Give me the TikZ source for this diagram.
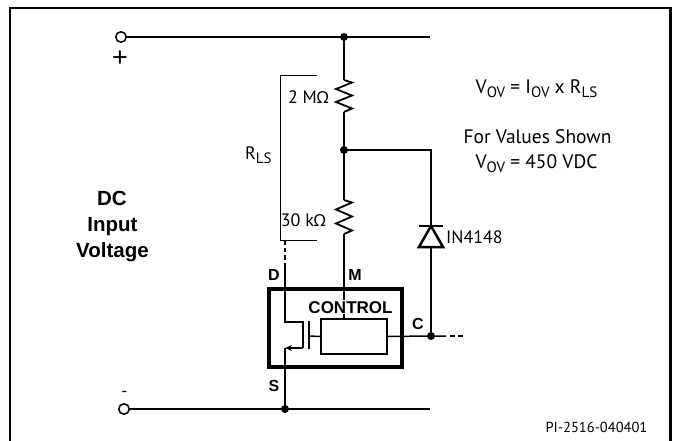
\documentclass[tikz,border=0pt]{standalone}
\usepackage{fontspec}
\newfontfamily\myr{PT Sans}
\newfontfamily\omf{Noto Sans}
\newfontfamily\hel{Liberation Sans}
\usetikzlibrary{arrows.meta}
\newcommand\sbx[1]{\raisebox{-4pt}{\fontsize{15}{15}\selectfont #1}}
\newcommand\ohmsym{{\omf\fontsize{16.5}{18}\selectfont Ω}}
\begin{document}
\begin{tikzpicture}[x=1pt,y=-1pt,
  wire/.style={line width=1.5pt},
  res/.style={line width=1.8pt, line join=miter},
  thinline/.style={line width=1pt},
  jdot/.style={circle, fill=black, inner sep=0pt, minimum size=8pt},
  term/.style={circle, draw, fill=white, line width=1.5pt, inner sep=0pt, minimum size=10.5pt},
  lbl/.style={font=\myr\fontsize{18}{20}\selectfont, inner sep=0pt},
  eqlbl/.style={font=\myr\fontsize{19.5}{22}\selectfont, inner sep=0pt},
  blbl/.style={font=\hel\bfseries\fontsize{16}{18}\selectfont, inner sep=0pt},
  big/.style={font=\hel\bfseries\fontsize{20.5}{24}\selectfont, inner sep=0pt},
  dio/.style={line width=2.5pt, line join=miter}]
\useasboundingbox (0,0) rectangle (678,440);
% frame
\draw[line width=2.2pt] (10,441) -- (10,8) -- (670.5,8) -- (670.5,441);
% coordinates
\node[term] (tplus) at (121,37) {};
\node[term] (tminus) at (124,409) {};
\coordinate (j1) at (344,37);
\coordinate (tend) at (430,37);
\coordinate (r1a) at (344,80);
\coordinate (r1b) at (344,112);
\coordinate (j2) at (344,150);
\coordinate (r2a) at (344,200);
\coordinate (r2b) at (344,234);
\coordinate (dtop) at (431,150);
\coordinate (dk) at (431,226);
\coordinate (da) at (431,247);
\coordinate (j3) at (431,336);
\coordinate (cend) at (446,336);
\coordinate (cdash) at (463,336);
\coordinate (dd) at (285,240);
\coordinate (dm) at (285,263);
\coordinate (dbend) at (285,322);
\coordinate (chtop) at (303,322);
\coordinate (chbot) at (303,348);
\coordinate (sbend) at (285,348);
\coordinate (j4) at (285,409);
\coordinate (bend) at (430,409);
\coordinate (g1) at (309,321);
\coordinate (g2) at (309,349);
\coordinate (gm) at (309,336);
\coordinate (b1) at (317,75);
\coordinate (b2) at (280,75);
\coordinate (b3) at (280,240);
\coordinate (b4) at (317,240);
% control block
\node[minimum width=66pt, minimum height=35pt, inner sep=0pt] (ctl) at (354,336.5) {};
\coordinate (mend) at (r2b |- ctl.north);
% rails
\draw[wire] (tplus) -- (j1) -- (tend);
\draw[wire] (tminus) -- (j4) -- (bend);
% resistor string
\draw[wire] (j1) -- (r1a);
\draw[res] (r1a) -- ++(8,2.5) -- ++(-16,6.5) -- ++(16,6.5) -- ++(-16,6.5) -- ++(16,6.5) -- (r1b);
\draw[wire] (r1b) -- (j2) -- (r2a);
\draw[res] (r2a) -- ++(8,2.5) -- ++(-16,7) -- ++(16,7) -- ++(-16,7) -- ++(16,7) -- (r2b);
\draw[wire] (r2b) -- (mend);
% diode branch
\draw[wire] (j2) -- (dtop) -- (dk);
\draw[wire] (da) -- (j3);
\draw[dio, fill=white] (da) ++(-12,0) -- ++(24,0) -- (dk) -- cycle;
\draw[dio] (dk) ++(-12,0) -- ++(24,0);
% C line
\draw[wire] (ctl.east) -- (j3) -- (cend);
\draw[wire, dash pattern=on 0pt off 4pt on 5pt off 3pt on 5pt off 100pt] (cend) -- (cdash);
% MOSFET
\draw[wire, dash pattern=on 4.5pt off 3pt] (dd) -- (dm);
\draw[wire] (dm) -- (dbend) -- (chtop) -- (chbot);
\draw[wire, -{Stealth[length=7pt,width=6pt]}] (chbot) -- (sbend);
\draw[wire] (sbend) -- (j4);
\draw[wire] (g1) -- (g2);
\draw[wire] (gm) -- (ctl.west);
% bracket
\draw[thinline] (b1) -- (b2) -- (b3) -- (b4);
% boxes
\node[draw, line width=4pt, minimum width=133pt, minimum height=78pt, inner sep=0pt] (box) at (335.5,328) {};
\draw[wire] (ctl.south west) rectangle (ctl.north east);
% dots
\node[jdot] (dj1) at (j1) {};
\node[jdot] (dj2) at (j2) {};
\node[jdot] (dj3) at (j3) {};
\node[jdot] (dj4) at (j4) {};
% labels
\node[blbl, fill=white, inner sep=1pt, anchor=base, font=\hel\bfseries\fontsize{17}{18}\selectfont] (ctltxt) at (350.5,313) {CONTROL};
\node[blbl, anchor=base] (ld) at (274,280) {D};
\node[blbl, anchor=base] (lm) at (355,280) {M};
\node[blbl, anchor=base] (ls) at (274,391) {S};
\node[blbl, anchor=base] (lc) at (418,329) {C};
\node[big, anchor=base] (dc) at (112,205) {DC};
\node[big, anchor=base] (inp) at (112.5,231.5) {Input};
\node[big, anchor=base] (volt) at (112.5,257.5) {Voltage};
\node[lbl, anchor=base east] (l2m) at (329,103) {2 M\ohmsym};
\node[lbl, anchor=base east] (l30k) at (326,226) {30 k\ohmsym};
\node[lbl, anchor=base west] (ldio) at (446,243) {IN4148};
\node[lbl, anchor=base west] (lrls) at (245,159) {R\sbx{LS}};
\node[eqlbl, anchor=base] (eq1) at (536.5,93) {V\sbx{OV} = I\sbx{OV} x R\sbx{LS}};
\node[eqlbl, anchor=base] (eq2) at (537.5,143) {For Values Shown};
\node[eqlbl, anchor=base] (eq3) at (536.5,168) {V\sbx{OV} = 450 VDC};
\node[lbl, anchor=base, font=\myr\fontsize{14.5}{16}\selectfont] (pi) at (596.5,432) {PI-2516-040401};
\node[lbl, font=\hel\fontsize{27}{27}\selectfont] (lplus) at (120,59) {+};
\node[lbl, font=\hel\fontsize{17}{17}\selectfont] (lminus) at (124.5,394) {-};
\end{tikzpicture}
\end{document}
